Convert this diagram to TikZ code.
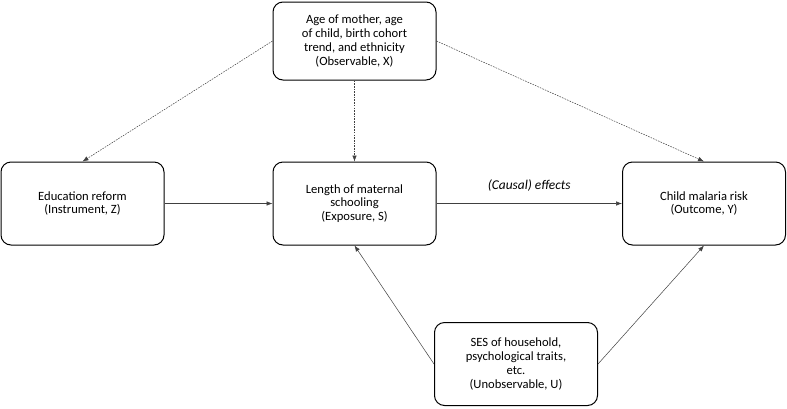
\documentclass[tikz,border=0pt]{standalone}
\usepackage{fontspec}
\setmainfont{Carlito}
\usetikzlibrary{arrows.meta}

\begin{document}
\begin{tikzpicture}[x=1pt,y=-1pt,
    box/.style={draw, rounded corners=10pt, line width=1pt, minimum width=163pt,
                minimum height=83pt, align=center, inner sep=1pt,
                font=\fontsize{12.6}{13.8}\selectfont},
    link/.style={-{Latex[length=6pt,width=4.5pt]}, line width=0.5pt, draw=black!75},
    hint/.style={link, dash pattern=on 1.6pt off 1.1pt}]
    \useasboundingbox (0,0) rectangle (787,408);

    % First, locate each of the nodes and name them
    \node [box, minimum height=78pt] (observ) at (354.5,41)
        {Age of mother, age\\of child, birth cohort\\trend, and ethnicity\\(Observable, X)};
    \node [box] (instr)   at (82.5,203.5) {Education reform\\(Instrument, Z)};
    \node [box] (expo)    at (354.5,203.5) {Length of maternal\\schooling\\(Exposure, S)};
    \node [box] (outcome) at (704,203.5) {Child malaria risk\\(Outcome, Y)};
    \node [box] (unobs)   at (516,364) {SES of household,\\psychological traits,\\etc.\\(Unobservable, U)};

    % Now draw the lines:
    \draw [hint] (observ.west) -- (instr.north);
    \draw [hint] (observ.south) -- (expo.north);
    \draw [hint] (observ.east) -- (outcome.north);
    \draw [link] (instr.east) -- (expo.west);
    \draw [link] (expo.east) -- node [above=9pt, font=\fontsize{13.4}{14}\selectfont\itshape] (effect) {(Causal) effects} (outcome.west);
    \draw [link] (unobs.west) -- (expo.south);
    \draw [link] (unobs.east) -- (outcome.south);
\end{tikzpicture}
\end{document}
